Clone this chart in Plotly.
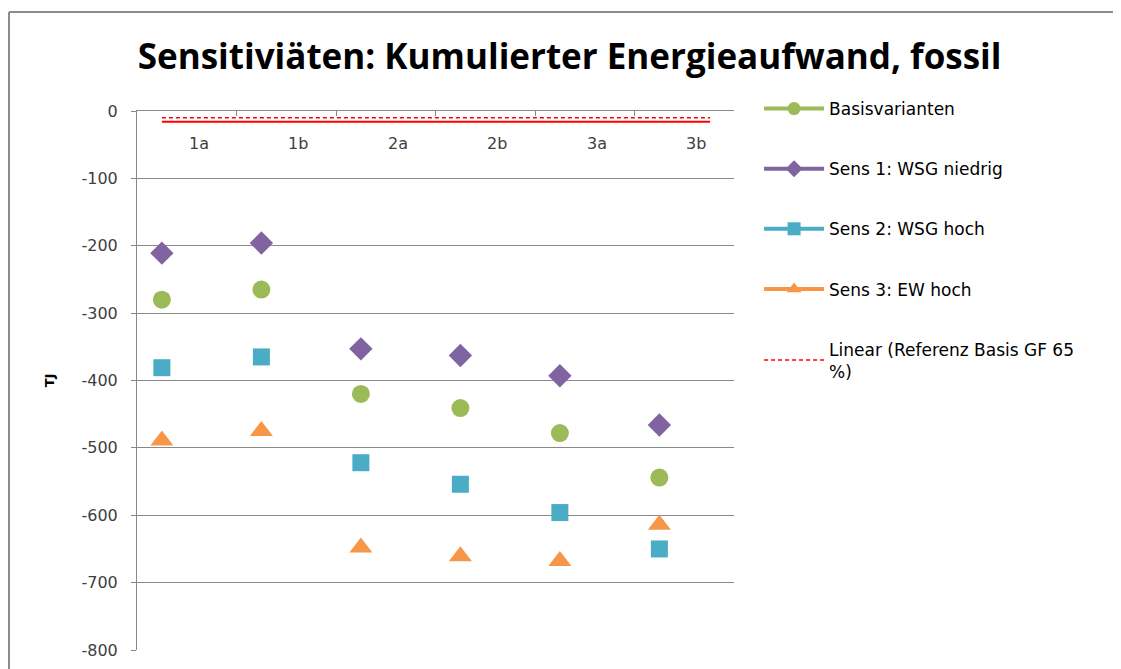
import plotly.graph_objects as go

# Categories and series values (TJ)
categories = ['1a', '1b', '2a', '2b', '3a', '3b']
basis = [-280, -265, -420, -441, -478, -544]
sens1 = [-211, -196, -353, -363, -393, -466]
sens2 = [-381, -365, -522, -554, -596, -650]
sens3 = [-489, -475, -648, -661, -668, -614]

# Reference series and its linear trend line
ref_x = [0.25, 5.76]
ref_y = [-16, -16]
trend_y = [-10, -10]

y_ticks = [0, -100, -200, -300, -400, -500, -600, -700, -800]

GREEN = '#9BBB59'
PURPLE = '#8064A2'
BLUE = '#4BACC6'
ORANGE = '#F79646'
GRID = '#898989'
FONT = 'DejaVu Sans'

x_pos = [i + 0.25 for i in range(len(categories))]

series = [
    ('Basisvarianten', basis, GREEN, 'circle', 18),
    ('Sens 1: WSG niedrig', sens1, PURPLE, 'diamond', 18),
    ('Sens 2: WSG hoch', sens2, BLUE, 'square', 17),
    ('Sens 3: EW hoch', sens3, ORANGE, 'triangle-up', 20),
]

fig = go.Figure()

# Reference line and trend line
fig.add_trace(go.Scatter(
    x=ref_x, y=ref_y, mode='lines',
    line=dict(color='#FF0000', width=2),
    showlegend=False, hoverinfo='skip'
))
fig.add_trace(go.Scatter(
    x=ref_x, y=trend_y, mode='lines',
    line=dict(color='#FF0000', width=1.5, dash='4px,3px'),
    showlegend=False, hoverinfo='skip'
))

# Data points
for name, vals, color, symbol, size in series:
    fig.add_trace(go.Scatter(
        x=x_pos, y=vals, mode='markers', name=name,
        marker=dict(color=color, symbol=symbol, size=size),
        showlegend=False
    ))

# Legend entries (Excel style: line with marker)
for name, vals, color, symbol, size in series:
    fig.add_trace(go.Scatter(
        x=[None], y=[None], mode='lines+markers', name=name,
        line=dict(color=color, width=4),
        marker=dict(color=color, symbol=symbol, size=13),
        legendgroup=name
    ))
fig.add_trace(go.Scatter(
    x=[None], y=[None], mode='lines',
    name='Linear (Referenz Basis GF 65<br>%)',
    line=dict(color='#FF0000', width=1.5, dash='4px,3px'),
    legendgroup='trend'
))

# Category labels below the top axis line
for i, cat in enumerate(categories):
    fig.add_annotation(
        text=cat, x=i + 0.62, xref='x', y=0.94, yref='paper',
        showarrow=False, xanchor='center', yanchor='middle',
        font=dict(family=FONT, size=16, color='#404040')
    )

# Chart frame
fig.add_shape(type='line', xref='paper', yref='paper',
              x0=-0.2144, x1=1.7, y0=1.1837, y1=1.1837,
              line=dict(color='#8C8C8C', width=2))
fig.add_shape(type='line', xref='paper', yref='paper',
              x0=-0.2144, x1=-0.2144, y0=1.1837, y1=-0.05,
              line=dict(color='#8C8C8C', width=2))

# Y axis title
fig.add_annotation(
    text='<b>TJ</b>', xref='paper', yref='paper',
    x=-0.146, y=0.5, xanchor='center', yanchor='middle',
    textangle=-90, showarrow=False,
    font=dict(family=FONT, size=13, color='#000000')
)

fig.update_layout(
    width=1121, height=669,
    plot_bgcolor='white', paper_bgcolor='white',
    margin=dict(l=129, r=395, t=103, b=27),
    title=dict(
        text='<b>Sensitiviäten: Kumulierter Energieaufwand, fossil</b>',
        x=0.501, xref='container', xanchor='center',
        y=0.927, yref='container', yanchor='middle',
        font=dict(family='Open Sans', size=35, color='#000000')
    ),
    xaxis=dict(
        side='top', range=[0, 6],
        tickvals=list(range(len(categories) + 1)),
        showticklabels=False, ticks='inside', ticklen=5,
        tickcolor=GRID, showline=True, linecolor=GRID, linewidth=1,
        showgrid=False, zeroline=False
    ),
    yaxis=dict(
        range=[-800, 0], tickvals=y_ticks,
        ticktext=[str(v) for v in y_ticks],
        ticks='outside', ticklen=5, tickcolor=GRID,
        ticklabelstandoff=10,
        showline=True, linecolor=GRID, linewidth=1,
        showgrid=True, gridcolor=GRID, gridwidth=1,
        zeroline=False,
        tickfont=dict(family=FONT, size=16, color='#404040')
    ),
    legend=dict(
        x=1.042, y=1.037, xanchor='left', yanchor='top',
        font=dict(family=FONT, size=17, color='#000000'),
        tracegroupgap=35, itemwidth=60,
        bgcolor='rgba(0,0,0,0)'
    ),
    showlegend=True
)

fig.write_html('out.html')
